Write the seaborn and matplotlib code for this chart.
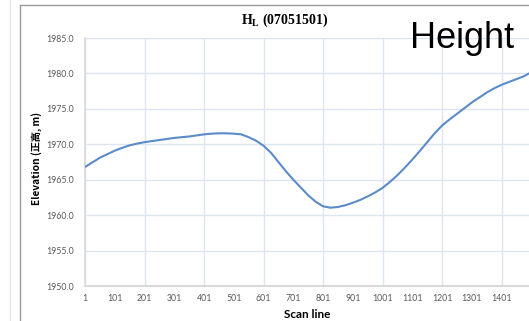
import matplotlib
matplotlib.use("Agg")
import matplotlib.pyplot as plt
import seaborn as sns
import pandas as pd
from matplotlib.lines import Line2D
from matplotlib.ticker import FuncFormatter

scan_line = [1, 26, 51, 76, 101, 126, 151, 176, 201, 226, 251, 276, 301, 326,
             351, 376, 401, 426, 451, 476, 501, 526, 551, 576, 601, 626, 651,
             676, 701, 726, 751, 776, 801, 826, 851, 876, 901, 926, 951, 976,
             1001, 1026, 1051, 1076, 1101, 1126, 1151, 1176, 1201, 1226, 1251,
             1276, 1301, 1326, 1351, 1376, 1401, 1426, 1451, 1476, 1493]
elevation = [1966.8, 1967.45, 1968.1, 1968.6, 1969.1, 1969.5, 1969.85, 1970.1,
             1970.3, 1970.45, 1970.6, 1970.75, 1970.9, 1971.0, 1971.1, 1971.25,
             1971.4, 1971.5, 1971.55, 1971.55, 1971.5, 1971.4, 1971.0, 1970.5,
             1969.8, 1968.8, 1967.5, 1966.2, 1965.0, 1963.9, 1962.8, 1961.9,
             1961.25, 1961.05, 1961.15, 1961.4, 1961.75, 1962.15, 1962.65,
             1963.2, 1963.85, 1964.7, 1965.65, 1966.7, 1967.85, 1969.05, 1970.3,
             1971.55, 1972.65, 1973.5, 1974.3, 1975.1, 1975.9, 1976.6, 1977.3,
             1977.9, 1978.4, 1978.8, 1979.2, 1979.6, 1980.0]
x_tick_labels = ["1", "101", "201", "301", "401", "501", "601", "701", "801",
                 "901", "1001", "1101", "1201", "1301", "1401"]
y_ticks = [1950, 1955, 1960, 1965, 1970, 1975, 1980, 1985]
title_code = "(07051501)"

sns.set_style("white")
plt.rcParams["font.family"] = ["Lato", "DejaVu Sans"]
plt.rcParams["mathtext.fontset"] = "custom"
plt.rcParams["mathtext.rm"] = "Liberation Serif"
plt.rcParams["mathtext.bf"] = "Liberation Serif:bold"

W, H = 529, 321
fig = plt.figure(figsize=(W / 100, H / 100), dpi=100)
ax = fig.add_axes([85 / W, 35 / H, (W - 85) / W, 248 / H])

df = pd.DataFrame({"scan": scan_line, "elev": elevation})
sns.lineplot(data=df, x="scan", y="elev", ax=ax, color="#5B8BC9",
             linewidth=1.5, zorder=3)

ax.set_xlim(1, 1493)
ax.set_ylim(1950, 1985)
ax.set_yticks(y_ticks)
ax.yaxis.set_major_formatter(FuncFormatter(lambda v, p: f"{v:.1f}"))
xt = [int(s) for s in x_tick_labels]
ax.set_xticks(xt)
ax.set_xticklabels(x_tick_labels)
ax.tick_params(axis="both", length=0, labelsize=6.3, colors="#595959")
ax.tick_params(axis="y", pad=8)
ax.tick_params(axis="x", pad=5.5)

for y in y_ticks:
    ax.axhline(y, color="#DCE5F1", lw=1.0, zorder=1)
for x in xt[::2]:
    ax.axvline(x, color="#DCE5F1", lw=1.0, zorder=1)

for s in ["top", "right"]:
    ax.spines[s].set_visible(False)
ax.spines["left"].set_color("#D9D9D9")
ax.spines["left"].set_linewidth(1.2)
ax.spines["bottom"].set_color("#D9D9D9")
ax.spines["bottom"].set_linewidth(1.5)
ax.set_xlabel("")
ax.set_ylabel("")

fig.text(307 / W, 1 - 314 / H, "Scan line", ha="center", va="center",
         fontsize=8.5, fontweight="bold", color="#000000")
fig.text(37 / W, 1 - 158 / H, "Elevation (正高, m)", ha="center", va="center",
         rotation=90, fontsize=7.3, fontweight="bold", color="#000000",
         family=["Noto Sans CJK SC"])
fig.text(285 / W, 1 - 20 / H, r"$\mathbf{H}_{\mathbf{L}}$ " + title_code,
         ha="center", va="center", fontsize=10, fontweight="bold",
         family="Liberation Serif", color="#000000")
fig.text(462 / W, 1 - 38 / H, "Height", ha="center", va="center",
         fontsize=26, family="Liberation Sans", color="#000000")

fig.add_artist(Line2D([10 / W, 10 / W], [0, 1], transform=fig.transFigure,
                      color="#DDE6F2", lw=1.0))
fig.add_artist(Line2D([20 / W, 20 / W], [0, 1 - 5 / H], transform=fig.transFigure,
                      color="#9A9A9A", lw=1.0))
fig.add_artist(Line2D([20 / W, 1], [1 - 5 / H, 1 - 5 / H], transform=fig.transFigure,
                      color="#9A9A9A", lw=1.0))

fig.savefig("out.png", dpi=100)
